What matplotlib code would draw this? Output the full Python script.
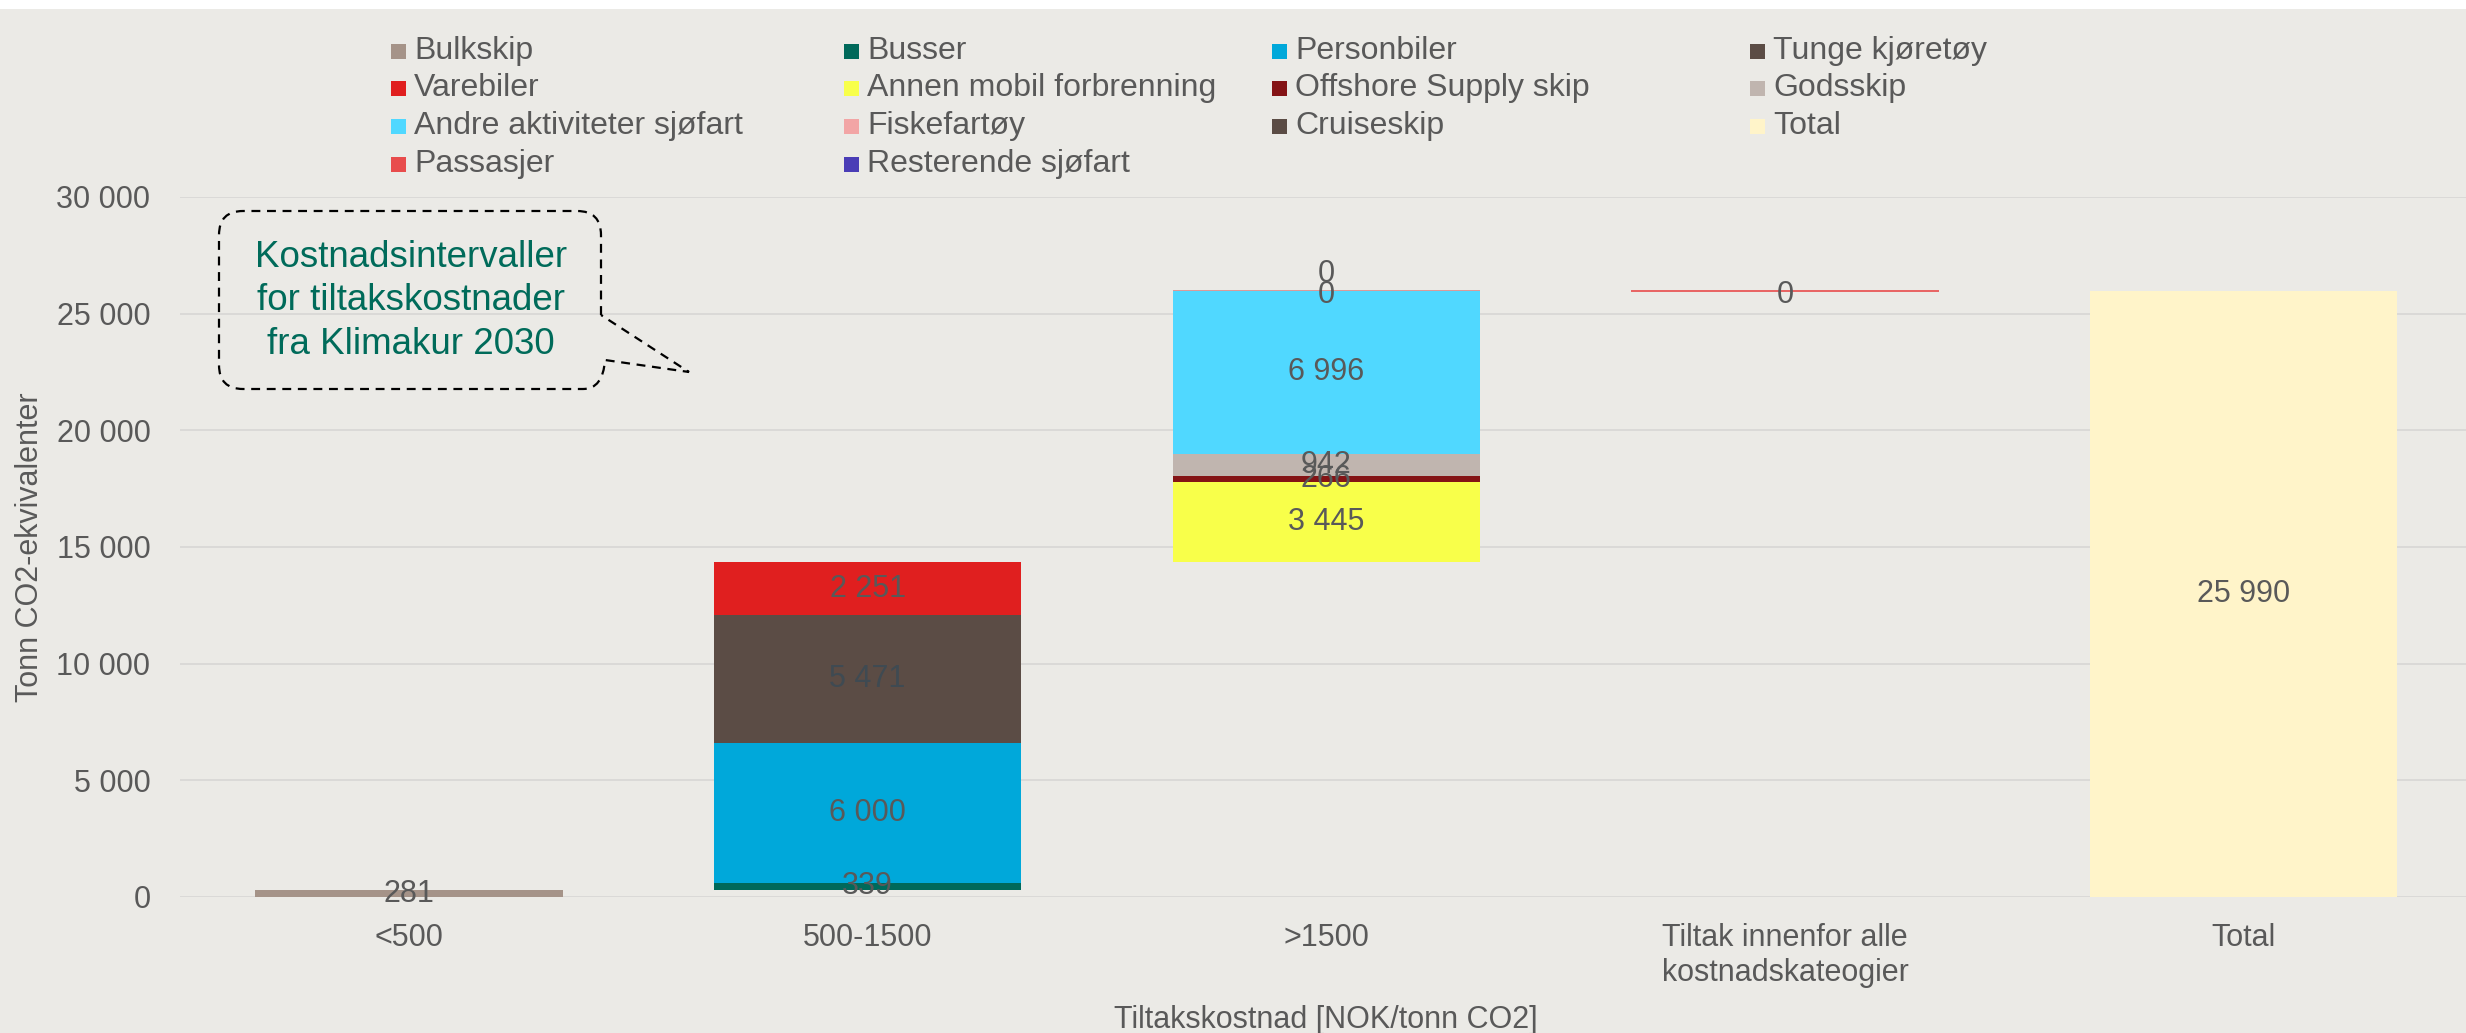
import matplotlib.pyplot as plt
from matplotlib.patches import Rectangle, PathPatch
from matplotlib.path import Path

plt.rcParams['font.family'] = ['Liberation Sans', 'DejaVu Sans']

# categories (cost intervals)
categories = ['<500', '500-1500', '>1500', 'Tiltak innenfor alle\nkostnadskateogier', 'Total']

# series values per category (None = no bar)
bulkskip = [281, None, None, None, None]
busser = [None, 339, None, None, None]
personbiler = [None, 6000, None, None, None]
tunge_kjoretoy = [None, 5471, None, None, None]
varebiler = [None, 2251, None, None, None]
annen_mobil = [None, None, 3445, None, None]
offshore_supply = [None, None, 266, None, None]
godsskip = [None, None, 942, None, None]
andre_sjofart = [None, None, 6996, None, None]
fiskefartoy = [None, None, 0, None, None]
cruiseskip = [None, None, 0, None, None]
total = [None, None, None, None, 25990]
passasjer = [None, None, None, 0, None]
resterende_sjofart = [None, None, None, None, None]

series = [
    ('Bulkskip', bulkskip, '#A59388'),
    ('Busser', busser, '#00695A'),
    ('Personbiler', personbiler, '#00A8DA'),
    ('Tunge kjøretøy', tunge_kjoretoy, '#5B4C45'),
    ('Varebiler', varebiler, '#E01F1F'),
    ('Annen mobil forbrenning', annen_mobil, '#F8FF4A'),
    ('Offshore Supply skip', offshore_supply, '#841315'),
    ('Godsskip', godsskip, '#C0B5AF'),
    ('Andre aktiviteter sjøfart', andre_sjofart, '#50D8FF'),
    ('Fiskefartøy', fiskefartoy, '#F2A5A5'),
    ('Cruiseskip', cruiseskip, '#5B4C45'),
    ('Total', total, '#FFF4C9'),
    ('Passasjer', passasjer, '#E84C4C'),
    ('Resterende sjøfart', resterende_sjofart, '#4A3DB6'),
]

bg = '#EBEAE6'
txt = '#595959'
W, H = 2466, 1033


def fx(x):
    return x / W


def fy(y):
    return 1 - y / H


fig = plt.figure(figsize=(W / 100, H / 100), dpi=100)
fig.patch.set_facecolor(bg)
fig.add_artist(Rectangle((0, fy(9)), 1, 1 - fy(9), transform=fig.transFigure,
                         facecolor='white', edgecolor='none'))

ax_l, ax_r = 179.6, 2473
ax = fig.add_axes([fx(ax_l), fy(897), fx(ax_r) - fx(ax_l), fy(197) - fy(897)])
ax.set_facecolor(bg)

# waterfall: each category starts where the previous one ended (Total from 0)
x = list(range(len(categories)))
running = 0
bars = []
for i in x:
    level = 0 if categories[i] == 'Total' else running
    for name, vals, col in series:
        v = vals[i]
        if v is None:
            continue
        bars.append((i, level, v, name, col))
        level += v
    if categories[i] != 'Total':
        running = level

width = 0.67
for i, bottom, v, name, col in reversed(bars):
    if v == 0:
        ax.bar(i, 0, bottom=bottom, width=width, color=col, edgecolor=col,
               linewidth=1.2, zorder=3)
    else:
        ax.bar(i, v, bottom=bottom, width=width, color=col, linewidth=0, zorder=3)

used = {}
for i, bottom, v, name, col in bars:
    ypos = bottom + v / 2
    key = (i, round(ypos))
    off = 12 * used.get(key, 0)
    used[key] = used.get(key, 0) + 1
    if v == 0 and off == 0:
        off = -3
    lc = '#3F4A52' if name == 'Tunge kjøretøy' else txt
    ax.annotate(f'{v:,.0f}'.replace(',', ' '), (i, ypos), xytext=(0, off),
                textcoords='offset points', ha='center', va='center',
                fontsize=22, color=lc, zorder=5)

ax.set_xlim(-0.5, len(categories) - 0.5)
ax.set_ylim(0, 30000)
ax.set_yticks(range(0, 30001, 5000))
ax.set_yticklabels([f'{t:,}'.replace(',', ' ') for t in range(0, 30001, 5000)])
ax.set_xticks(x)
ax.set_xticklabels(categories)
ax.tick_params(axis='both', length=0, labelsize=22, labelcolor=txt)
ax.tick_params(axis='y', pad=21)
ax.tick_params(axis='x', pad=19)
ax.grid(axis='y', color='#D9D8D6', linewidth=1.3, zorder=0)
ax.set_axisbelow(True)
for s in ax.spines.values():
    s.set_visible(False)

ax.set_ylabel('Tonn CO2-ekvivalenter', fontsize=22, color=txt)
ax.yaxis.set_label_coords((45 - ax_l) / (ax_r - ax_l), 0.5)
ax.set_xlabel('Tiltakskostnad [NOK/tonn CO2]', fontsize=22, color=txt, labelpad=12)

# legend, laid out row-wise like the original
text_x = [414, 867, 1295, 1773]
row_y = [51, 88, 126, 164]
for k, (name, vals, col) in enumerate(series):
    r, c = divmod(k, 4)
    fig.add_artist(Rectangle((fx(text_x[c] - 23), fy(row_y[r] + 7.5)), fx(15), fy(0) - fy(15),
                             transform=fig.transFigure, facecolor=col, edgecolor='none'))
    fig.text(fx(text_x[c]), fy(row_y[r]), name, fontsize=23, color=txt,
             ha='left', va='center')

# callout bubble
L, R, T, B, r = 219, 601, 211, 389, 24
pts = [(R, 315), (R, T + r), (R, T), (R - r, T), (L + r, T), (L, T), (L, T + r),
       (L, B - r), (L, B), (L + r, B), (583, B), (603, B), (605, 360), (689, 372),
       (R, 315)]
codes = [Path.MOVETO, Path.LINETO, Path.CURVE3, Path.CURVE3, Path.LINETO,
         Path.CURVE3, Path.CURVE3, Path.LINETO, Path.CURVE3, Path.CURVE3,
         Path.LINETO, Path.CURVE3, Path.CURVE3, Path.LINETO, Path.LINETO]
path = Path([(fx(a), fy(b)) for a, b in pts], codes)
fig.add_artist(PathPatch(path, transform=fig.transFigure, fill=False,
                         edgecolor='black', linewidth=1.6, linestyle=(0, (4, 3))))
fig.text(fx(411), fy(301), 'Kostnadsintervaller\nfor tiltakskostnader\nfra Klimakur 2030',
         ha='center', va='center', fontsize=26.5, color='#006B5A', linespacing=1.3)

fig.savefig('out.png', dpi=100, facecolor=fig.get_facecolor())
